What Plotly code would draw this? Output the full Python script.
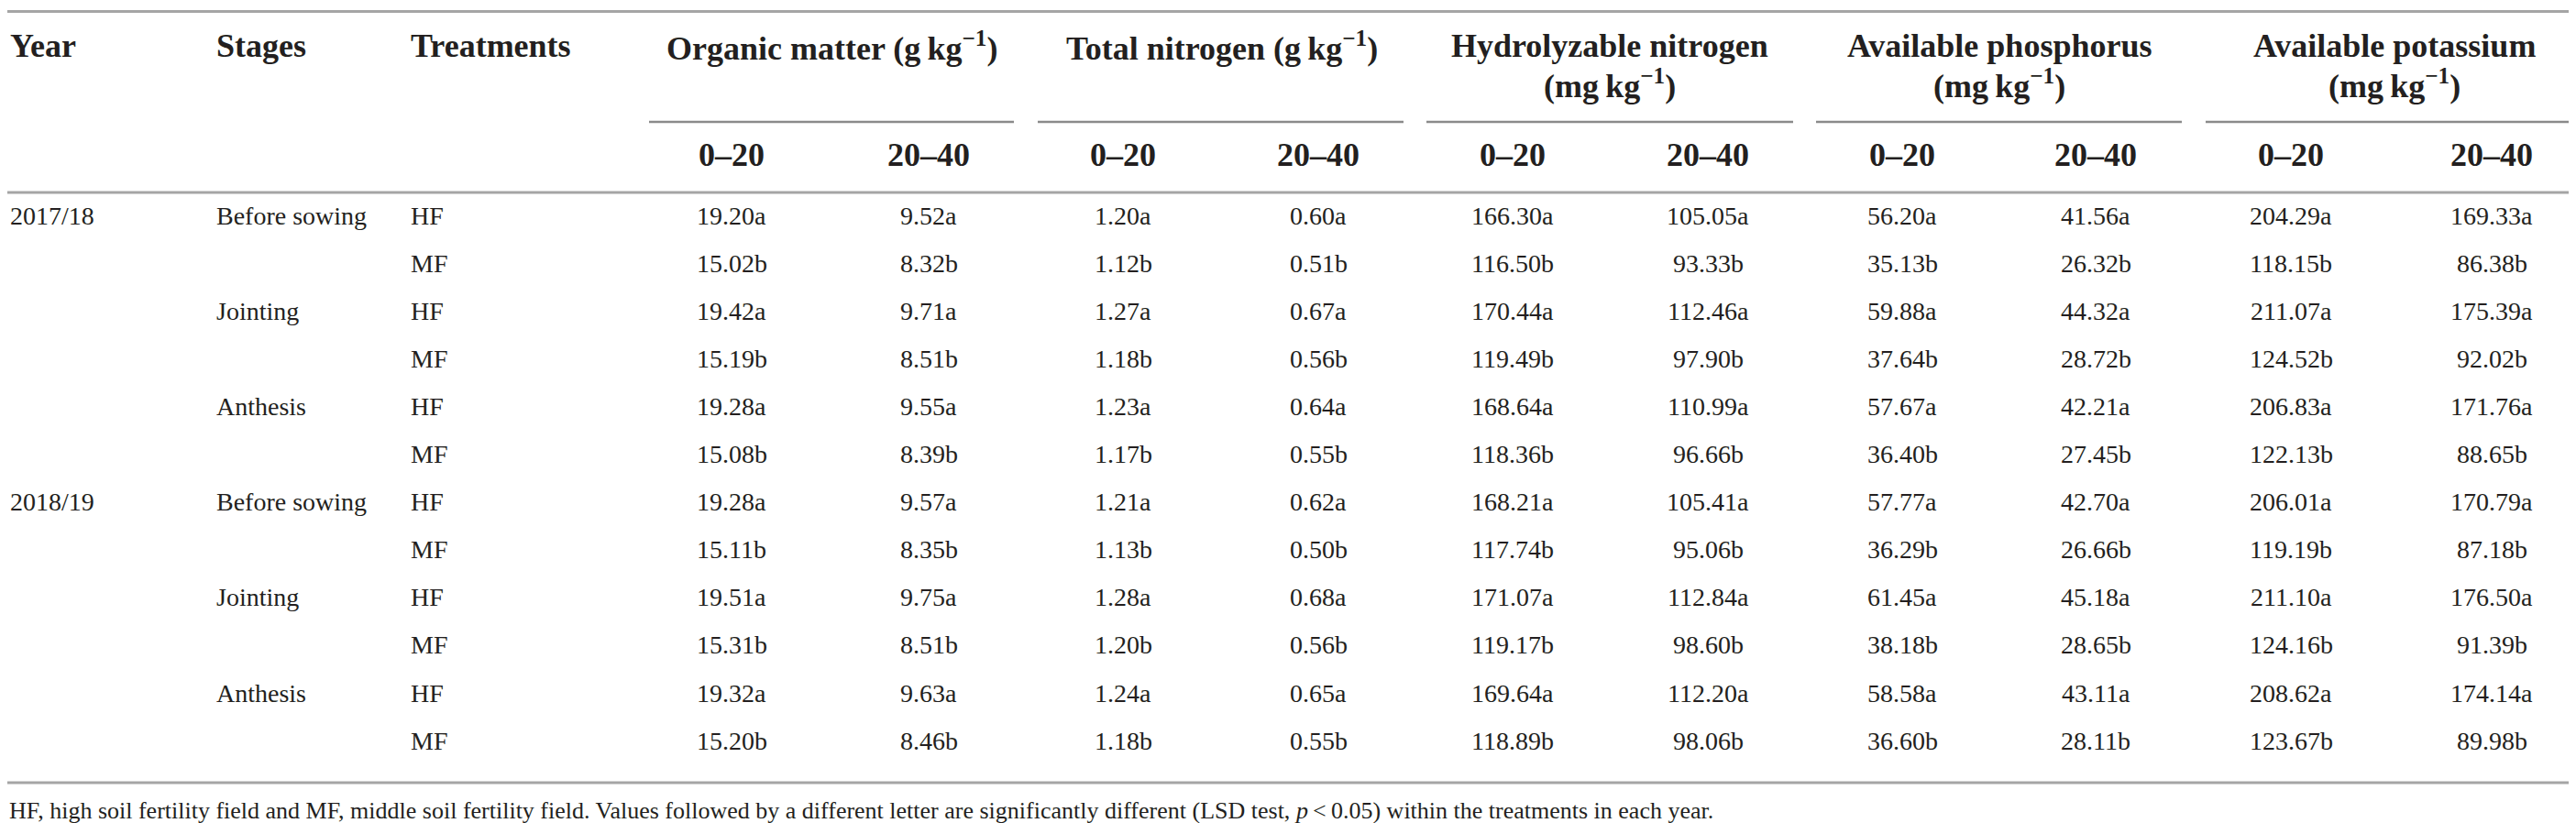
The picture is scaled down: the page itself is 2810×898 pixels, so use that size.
import plotly.graph_objects as go

# ---------------- data ----------------
years = ["2017/18", "", "", "", "", "", "2018/19", "", "", "", "", ""]
stages = ["Before sowing", "", "Jointing", "", "Anthesis", "",
          "Before sowing", "", "Jointing", "", "Anthesis", ""]
treatments = ["HF", "MF"] * 6
letters = ["a", "b"] * 6

organic_0_20 = [19.20, 15.02, 19.42, 15.19, 19.28, 15.08, 19.28, 15.11, 19.51, 15.31, 19.32, 15.20]
organic_20_40 = [9.52, 8.32, 9.71, 8.51, 9.55, 8.39, 9.57, 8.35, 9.75, 8.51, 9.63, 8.46]
tn_0_20 = [1.20, 1.12, 1.27, 1.18, 1.23, 1.17, 1.21, 1.13, 1.28, 1.20, 1.24, 1.18]
tn_20_40 = [0.60, 0.51, 0.67, 0.56, 0.64, 0.55, 0.62, 0.50, 0.68, 0.56, 0.65, 0.55]
hn_0_20 = [166.30, 116.50, 170.44, 119.49, 168.64, 118.36, 168.21, 117.74, 171.07, 119.17, 169.64, 118.89]
hn_20_40 = [105.05, 93.33, 112.46, 97.90, 110.99, 96.66, 105.41, 95.06, 112.84, 98.60, 112.20, 98.06]
ap_0_20 = [56.20, 35.13, 59.88, 37.64, 57.67, 36.40, 57.77, 36.29, 61.45, 38.18, 58.58, 36.60]
ap_20_40 = [41.56, 26.32, 44.32, 28.72, 42.21, 27.45, 42.70, 26.66, 45.18, 28.65, 43.11, 28.11]
ak_0_20 = [204.29, 118.15, 211.07, 124.52, 206.83, 122.13, 206.01, 119.19, 211.10, 124.16, 208.62, 123.67]
ak_20_40 = [169.33, 86.38, 175.39, 92.02, 171.76, 88.65, 170.79, 87.18, 176.50, 91.39, 174.14, 89.98]

left_headers = ["Year", "Stages", "Treatments"]
group_line1 = ["Organic matter (g\u2009kg<sup>\u22121</sup>)",
               "Total nitrogen (g\u2009kg<sup>\u22121</sup>)",
               "Hydrolyzable nitrogen", "Available phosphorus", "Available potassium"]
group_line2 = ["", "", "(mg\u2009kg<sup>\u22121</sup>)", "(mg\u2009kg<sup>\u22121</sup>)",
               "(mg\u2009kg<sup>\u22121</sup>)"]
depth_labels = ["0\u201320", "20\u201340"]
footnote = ("HF, high soil fertility field and MF, middle soil fertility field. Values followed by a "
            "different letter are significantly different (LSD test, <i>p</i>\u2009<\u20090.05) "
            "within the treatments in each year.")

value_columns = [organic_0_20, organic_20_40, tn_0_20, tn_20_40, hn_0_20, hn_20_40,
                 ap_0_20, ap_20_40, ak_0_20, ak_20_40]

# ---------------- layout geometry ----------------
W, H = 2810, 898
TXT = "#231f20"
FONT = "Liberation Serif"
col_x = [790, 1005, 1217, 1430, 1642, 1855, 2067, 2278, 2491, 2710]
group_x = [899, 1325, 1748, 2173, 2604]
group_span = [(700, 1098), (1124, 1523), (1548, 1948), (1973, 2372), (2398, 2810)]
left_x = [1, 226, 438]
row_y0, row_dy = 227, 52.1
y_head1, y_head2, y_sub, y_part = 42, 83, 161, 125
y_top, y_headline, y_bottom, y_foot = 4.5, 202, 846, 876

ann = []


def add(text, x, y, size, bold=False, xanchor="center"):
    ann.append(dict(text=f"<b>{text}</b>" if bold else text, x=x, y=y, xref="x", yref="y",
                    xanchor=xanchor, yanchor="middle", showarrow=False,
                    font=dict(family=FONT, size=size, color=TXT)))


for i, h in enumerate(left_headers):
    add(h, left_x[i], y_head1, 36, True, "left")
for g in range(5):
    add(group_line1[g], group_x[g], y_head1, 36, True)
    if group_line2[g]:
        add(group_line2[g], group_x[g], y_head2, 36, True)
for c in range(10):
    add(depth_labels[c % 2], col_x[c], y_sub, 36, True)

for r in range(len(treatments)):
    y = row_y0 + r * row_dy
    if years[r]:
        add(years[r], left_x[0], y, 28, False, "left")
    if stages[r]:
        add(stages[r], left_x[1], y, 28, False, "left")
    add(treatments[r], left_x[2], y, 28, False, "left")
    for c, col in enumerate(value_columns):
        add(f"{col[r]:.2f}{letters[r]}", col_x[c], y, 28)

add(footnote, 0, y_foot, 26, False, "left")

shapes = []
for yy in (y_top, y_headline, y_bottom):
    shapes.append(dict(type="line", xref="x", yref="y", x0=0, x1=W, y0=yy, y1=yy,
                       line=dict(color="#a5a5a5", width=3)))
for a, b in group_span:
    shapes.append(dict(type="line", xref="x", yref="y", x0=a, x1=b, y0=y_part, y1=y_part,
                       line=dict(color="#8a8a8a", width=2.5)))

fig = go.Figure()
fig.update_layout(
    width=W, height=H, margin=dict(l=0, r=0, t=0, b=0),
    paper_bgcolor="white", plot_bgcolor="white",
    xaxis=dict(range=[0, W], visible=False, fixedrange=True),
    yaxis=dict(range=[H, 0], visible=False, fixedrange=True),
    annotations=ann, shapes=shapes, showlegend=False,
)
fig.write_html("out.html")
